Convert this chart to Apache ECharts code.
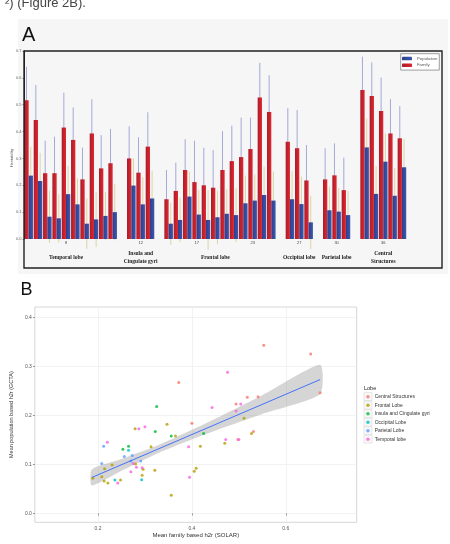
<!DOCTYPE html>
<html>
<head>
<meta charset="utf-8">
<script src="https://cdn.jsdelivr.net/npm/echarts@6/dist/echarts.min.js"></script>
<style>
  html, body { margin: 0; padding: 0; background: #fff; }
  #chart { width: 450px; height: 544px; }
</style>
</head>
<body>
<div id="chart"></div>
<script>
// ---- panel A data (heritability per region, grouped by lobe) ----
const lobeNames = ['Temporal lobe', 'Insula and\nCingulate gyri', 'Frontal lobe', 'Occipital lobe', 'Parietal lobe', 'Central\nStructures'];

const familyH2 = [
  [0.517, 0.443, 0.245, 0.245, 0.415, 0.369, 0.222, 0.393, 0.263, 0.282],
  [0.300, 0.247, 0.344],
  [0.148, 0.179, 0.257, 0.212, 0.200, 0.191, 0.257, 0.290, 0.305, 0.335, 0.527, 0.473],
  [0.362, 0.338, 0.218],
  [0.222, 0.237, 0.182],
  [0.555, 0.532, 0.477, 0.393, 0.375]
];
const familyErr = [
  [0.124, 0.130, 0.121, 0.136, 0.130, 0.121, 0.118, 0.127, 0.124, 0.128],
  [0.120, 0.132, 0.128],
  [0.109, 0.105, 0.115, 0.154, 0.140, 0.140, 0.145, 0.132, 0.147, 0.117, 0.129, 0.137],
  [0.125, 0.142, 0.132],
  [0.116, 0.119, 0.121],
  [0.124, 0.126, 0.124, 0.128, 0.120]
];
const popH2 = [
  [0.236, 0.216, 0.083, 0.077, 0.167, 0.129, 0.057, 0.073, 0.086, 0.100],
  [0.199, 0.129, 0.151],
  [0.057, 0.071, 0.158, 0.091, 0.071, 0.081, 0.094, 0.089, 0.133, 0.143, 0.164, 0.143],
  [0.148, 0.130, 0.062],
  [0.107, 0.102, 0.089],
  [0.341, 0.168, 0.288, 0.161, 0.267]
];
const popErr = [
  [0.108, 0.105, 0.097, 0.090, 0.106, 0.097, 0.094, 0.103, 0.090, 0.105],
  [0.101, 0.101, 0.102],
  [0.078, 0.083, 0.093, 0.091, 0.111, 0.099, 0.092, 0.101, 0.103, 0.097, 0.105, 0.108],
  [0.105, 0.102, 0.099],
  [0.088, 0.088, 0.090],
  [0.108, 0.104, 0.105, 0.104, 0.105]
];
// small index tags printed under some bars
const pairTags = [{4: '8'}, {1: '12'}, {3: '17', 9: '23'}, {1: '27'}, {1: '30'}, {2: '36'}];

// ---- panel B data (family h2r vs population h2r) ----
const scatterLobes = ['Central Structures', 'Frontal Lobe', 'Insula and Cingulate gyri', 'Occipital Lobe', 'Parietal Lobe', 'Temporal lobe'];
const centralPts = [[0.553, 0.343], [0.653, 0.325], [0.673, 0.246], [0.531, 0.167], [0.372, 0.267], [0.498, 0.151], [0.400, 0.184], [0.494, 0.223], [0.518, 0.237], [0.541, 0.238]];
const frontalPts = [[0.347, 0.182], [0.279, 0.173], [0.365, 0.158], [0.470, 0.143], [0.313, 0.136], [0.418, 0.137], [0.280, 0.101], [0.230, 0.099], [0.214, 0.091], [0.296, 0.090], [0.321, 0.088], [0.409, 0.092], [0.405, 0.086], [0.189, 0.072], [0.208, 0.075], [0.213, 0.066], [0.221, 0.062], [0.248, 0.068], [0.294, 0.078], [0.356, 0.037], [0.511, 0.194], [0.527, 0.163]];
const insulaPts = [[0.325, 0.218], [0.322, 0.167], [0.356, 0.158], [0.265, 0.137], [0.253, 0.131], [0.425, 0.163]];
const occipitalPts = [[0.265, 0.129], [0.236, 0.068], [0.293, 0.069]];
const parietalPts = [[0.212, 0.137], [0.273, 0.118], [0.270, 0.107], [0.291, 0.107], [0.208, 0.102], [0.256, 0.116]];
const temporalPts = [[0.443, 0.216], [0.300, 0.177], [0.287, 0.173], [0.472, 0.151], [0.220, 0.145], [0.393, 0.136], [0.270, 0.085], [0.282, 0.094], [0.294, 0.093], [0.395, 0.074], [0.242, 0.062], [0.476, 0.288], [0.504, 0.223], [0.494, 0.209], [0.500, 0.151], [0.275, 0.102]];
const lobePts = [centralPts, frontalPts, insulaPts, occipitalPts, parietalPts, temporalPts];
const lobeColors = ['#F8766D', '#B79F00', '#00BA38', '#00BFC4', '#619CFF', '#F564E3'];

const regX = [0.187, 0.673];
const regY = [0.0735, 0.273];
const bandX = [0.187, 0.25, 0.33, 0.45, 0.55, 0.673];
const bandLo = [0.057, 0.087, 0.124, 0.169, 0.203, 0.243];
const bandHi = [0.090, 0.111, 0.140, 0.193, 0.241, 0.303];

// build the slot list (one empty slot between lobes)
const slotTag = [], slotLobe = [], famData = [], popData = [], famErrData = [], popErrData = [];
lobeNames.forEach((name, li) => {
  const n = familyH2[li].length;
  for (let k = 0; k < n; k++) {
    const i = slotTag.length;
    slotTag.push(pairTags[li][k] || '');
    slotLobe.push(k === Math.floor((n - 1) / 2) ? name : '');
    famData.push(familyH2[li][k]);
    popData.push(popH2[li][k]);
    famErrData.push([i, familyH2[li][k] - familyErr[li][k], familyH2[li][k] + familyErr[li][k]]);
    popErrData.push([i, popH2[li][k] - popErr[li][k], popH2[li][k] + popErr[li][k]]);
  }
  if (li < lobeNames.length - 1) {
    slotTag.push(''); slotLobe.push(''); famData.push('-'); popData.push('-');
  }
});
const slots = slotTag.map((_, i) => 's' + i);

function errorBar(side, color) {
  return function (params, api) {
    const x = api.value(0);
    const lo = api.coord([x, api.value(1)]);
    const hi = api.coord([x, api.value(2)]);
    const dx = side * api.size([1, 0])[0] * 0.23;
    return {
      type: 'line',
      shape: { x1: lo[0] + dx, y1: lo[1], x2: hi[0] + dx, y2: hi[1] },
      style: { stroke: color, lineWidth: 1 }
    };
  };
}

const chart = echarts.init(document.getElementById('chart'), null, { renderer: 'canvas' });

const redFill = new echarts.graphic.LinearGradient(0, 0, 1, 0, [
  { offset: 0, color: '#a91d2d' }, { offset: 1, color: '#e2262d' }
]);
const blueFill = new echarts.graphic.LinearGradient(0, 0, 1, 0, [
  { offset: 0, color: '#2a3f8f' }, { offset: 1, color: '#3f57aa' }
]);

const keyBoxes = scatterLobes.map((_, i) => ({
  type: 'rect',
  shape: { x: 364, y: 392.6 + i * 8.5, width: 8, height: 8 },
  style: { fill: '#f8f8f8', stroke: '#d8d8d8', lineWidth: 0.6 },
  z: -1
}));

const option = {
  animation: false,
  grid: [
    { left: 24, top: 51, width: 382.6, height: 188 },
    { left: 32.3, top: 307, width: 324.4, height: 215.3, show: true, backgroundColor: '#fff', borderColor: '#d6d6d6', borderWidth: 1 }
  ],
  legend: [
    {
      data: ['Population', 'Family'],
      orient: 'vertical',
      left: 400.7, top: 53.7,
      itemWidth: 10, itemHeight: 3.5, itemGap: 0,
      padding: [1.5, 2, 1.5, 1.3],
      borderColor: '#888', borderWidth: 0.8, backgroundColor: '#fff',
      textStyle: { fontSize: 4.3, color: '#555', lineHeight: 6.7, fontFamily: 'Liberation Sans' }
    },
    {
      data: scatterLobes,
      orient: 'vertical',
      left: 366.2, top: 392.6,
      icon: 'circle',
      itemWidth: 3.5, itemHeight: 3.5, itemGap: 0,
      padding: 0,
      textStyle: { fontSize: 5, color: '#333', lineHeight: 8.5, fontFamily: 'Liberation Sans' }
    }
  ],
  xAxis: [
    {
      type: 'category', gridIndex: 0, data: slots,
      axisLine: { show: false }, axisTick: { show: false },
      axisLabel: { interval: 0, formatter: (v, i) => slotTag[i], fontSize: 4, color: '#444', margin: 4.3, verticalAlign: 'middle' }
    },
    {
      type: 'category', gridIndex: 0, data: slots, position: 'bottom',
      axisLine: { show: false }, axisTick: { show: false },
      axisLabel: {
        interval: 0, formatter: (v, i) => slotLobe[i], fontSize: 5.5, fontFamily: 'Liberation Serif',
        fontWeight: 'bold', color: '#222', margin: 18.3, verticalAlign: 'middle', lineHeight: 8
      }
    },
    {
      type: 'value', gridIndex: 1, min: 0.0655, max: 0.751,
      axisLine: { show: false },
      axisTick: { show: true, length: 2, customValues: [0.2, 0.4, 0.6], lineStyle: { color: '#555', width: 0.6 } },
      axisLabel: { customValues: [0.2, 0.4, 0.6], fontSize: 5, color: '#555', margin: 4, formatter: v => v.toFixed(1) },
      splitLine: { show: true, lineStyle: { color: '#efefef', width: 0.8 } },
      name: 'Mean family based h2r (SOLAR)', nameLocation: 'middle', nameGap: 9,
      nameTextStyle: { fontSize: 6, color: '#333', fontFamily: 'Liberation Sans' }
    }
  ],
  yAxis: [
    {
      type: 'value', gridIndex: 0, min: 0, max: 0.7, interval: 0.1,
      axisLine: { show: true, lineStyle: { color: '#222' } },
      axisTick: { show: true, length: 1.5, lineStyle: { color: '#555', width: 0.6 } },
      axisLabel: { fontSize: 4, color: '#666', margin: 2.5, formatter: v => v.toFixed(1) },
      splitLine: { show: false }
    },
    {
      type: 'value', gridIndex: 1, min: -0.018, max: 0.421,
      axisLine: { show: false },
      axisTick: { show: true, length: 2, customValues: [0, 0.1, 0.2, 0.3, 0.4], lineStyle: { color: '#555', width: 0.6 } },
      axisLabel: { customValues: [0, 0.1, 0.2, 0.3, 0.4], fontSize: 5, color: '#555', margin: 3, formatter: v => v.toFixed(1) },
      splitLine: { show: true, lineStyle: { color: '#efefef', width: 0.8 } },
      name: 'Mean population based h2r (GCTA)', nameLocation: 'middle', nameGap: 14.5,
      nameTextStyle: { fontSize: 5.5, color: '#333', fontFamily: 'Liberation Sans' }
    }
  ],
  series: [
    {
      type: 'custom', xAxisIndex: 0, yAxisIndex: 0, data: famErrData, clip: false, silent: true, z: 1,
      encode: { x: 0, y: [1, 2] }, renderItem: errorBar(-1, '#a4a9d8')
    },
    {
      type: 'custom', xAxisIndex: 0, yAxisIndex: 0, data: popErrData, clip: false, silent: true, z: 1,
      encode: { x: 0, y: [1, 2] }, renderItem: errorBar(1, '#ddd3a6')
    },
    {
      name: 'Family', type: 'bar', xAxisIndex: 0, yAxisIndex: 0, data: famData,
      barWidth: '46%', barGap: '0%', itemStyle: { color: redFill }, z: 3
    },
    {
      name: 'Population', type: 'bar', xAxisIndex: 0, yAxisIndex: 0, data: popData,
      barWidth: '46%', barGap: '0%', itemStyle: { color: blueFill }, z: 3
    },
    {
      type: 'custom', xAxisIndex: 2, yAxisIndex: 1, silent: true, z: 1,
      data: bandX.map((x, i) => [x, bandLo[i], bandHi[i]]),
      encode: { x: 0, y: [1, 2] },
      renderItem: function (params, api) {
        if (params.dataIndex !== 0) return null;
        const pts = [];
        bandX.forEach((x, i) => pts.push(api.coord([x, bandHi[i]])));
        for (let i = bandX.length - 1; i >= 0; i--) pts.push(api.coord([bandX[i], bandLo[i]]));
        return { type: 'polygon', shape: { points: pts, smooth: 0.2 }, style: { fill: 'rgba(150,150,150,0.4)' } };
      }
    },
    {
      type: 'line', xAxisIndex: 2, yAxisIndex: 1, silent: true, z: 4,
      data: regX.map((x, i) => [x, regY[i]]), showSymbol: false,
      lineStyle: { color: '#3366FF', width: 0.9 }
    }
  ].concat(scatterLobes.map((name, i) => ({
    name: name, type: 'scatter', xAxisIndex: 2, yAxisIndex: 1, data: lobePts[i],
    symbolSize: 3, itemStyle: { color: lobeColors[i] }, z: 3
  }))),
  graphic: [
    {
      type: 'rect', shape: { x: 18, y: 19, width: 430, height: 255 },
      style: { fill: '#f6f6f6' }, z: -100
    },
    {
      type: 'rect', shape: { x: 24, y: 51, width: 418, height: 217 },
      style: { fill: 'none', stroke: '#222', lineWidth: 1.4 }, z: 100
    },
    {
      type: 'text',
      style: { text: '²) (Figure 2B).', x: 5, y: 3, fontSize: 13, fontFamily: 'Liberation Sans', fill: '#444', align: 'left', verticalAlign: 'middle' }
    },
    {
      type: 'text',
      style: { text: 'A', x: 22, y: 35, fontSize: 20, fontFamily: 'Liberation Sans', fill: '#111', align: 'left', verticalAlign: 'middle' }
    },
    {
      type: 'text',
      style: { text: 'B', x: 20.5, y: 290.5, fontSize: 18, fontFamily: 'Liberation Sans', fill: '#111', align: 'left', verticalAlign: 'middle' }
    },
    {
      type: 'text', x: 11.7, y: 158, rotation: Math.PI / 2,
      style: { text: 'Heritability', x: 0, y: 0, fontSize: 4, fontFamily: 'Liberation Sans', fill: '#555', align: 'center', verticalAlign: 'middle' }
    },
    {
      type: 'text',
      style: { text: 'Lobe', x: 364, y: 388, fontSize: 5.5, fontFamily: 'Liberation Sans', fill: '#222', align: 'left', verticalAlign: 'middle' }
    }
  ].concat(keyBoxes)
};

chart.setOption(option);
window.addEventListener('resize', chart.resize);
</script>
</body>
</html>
